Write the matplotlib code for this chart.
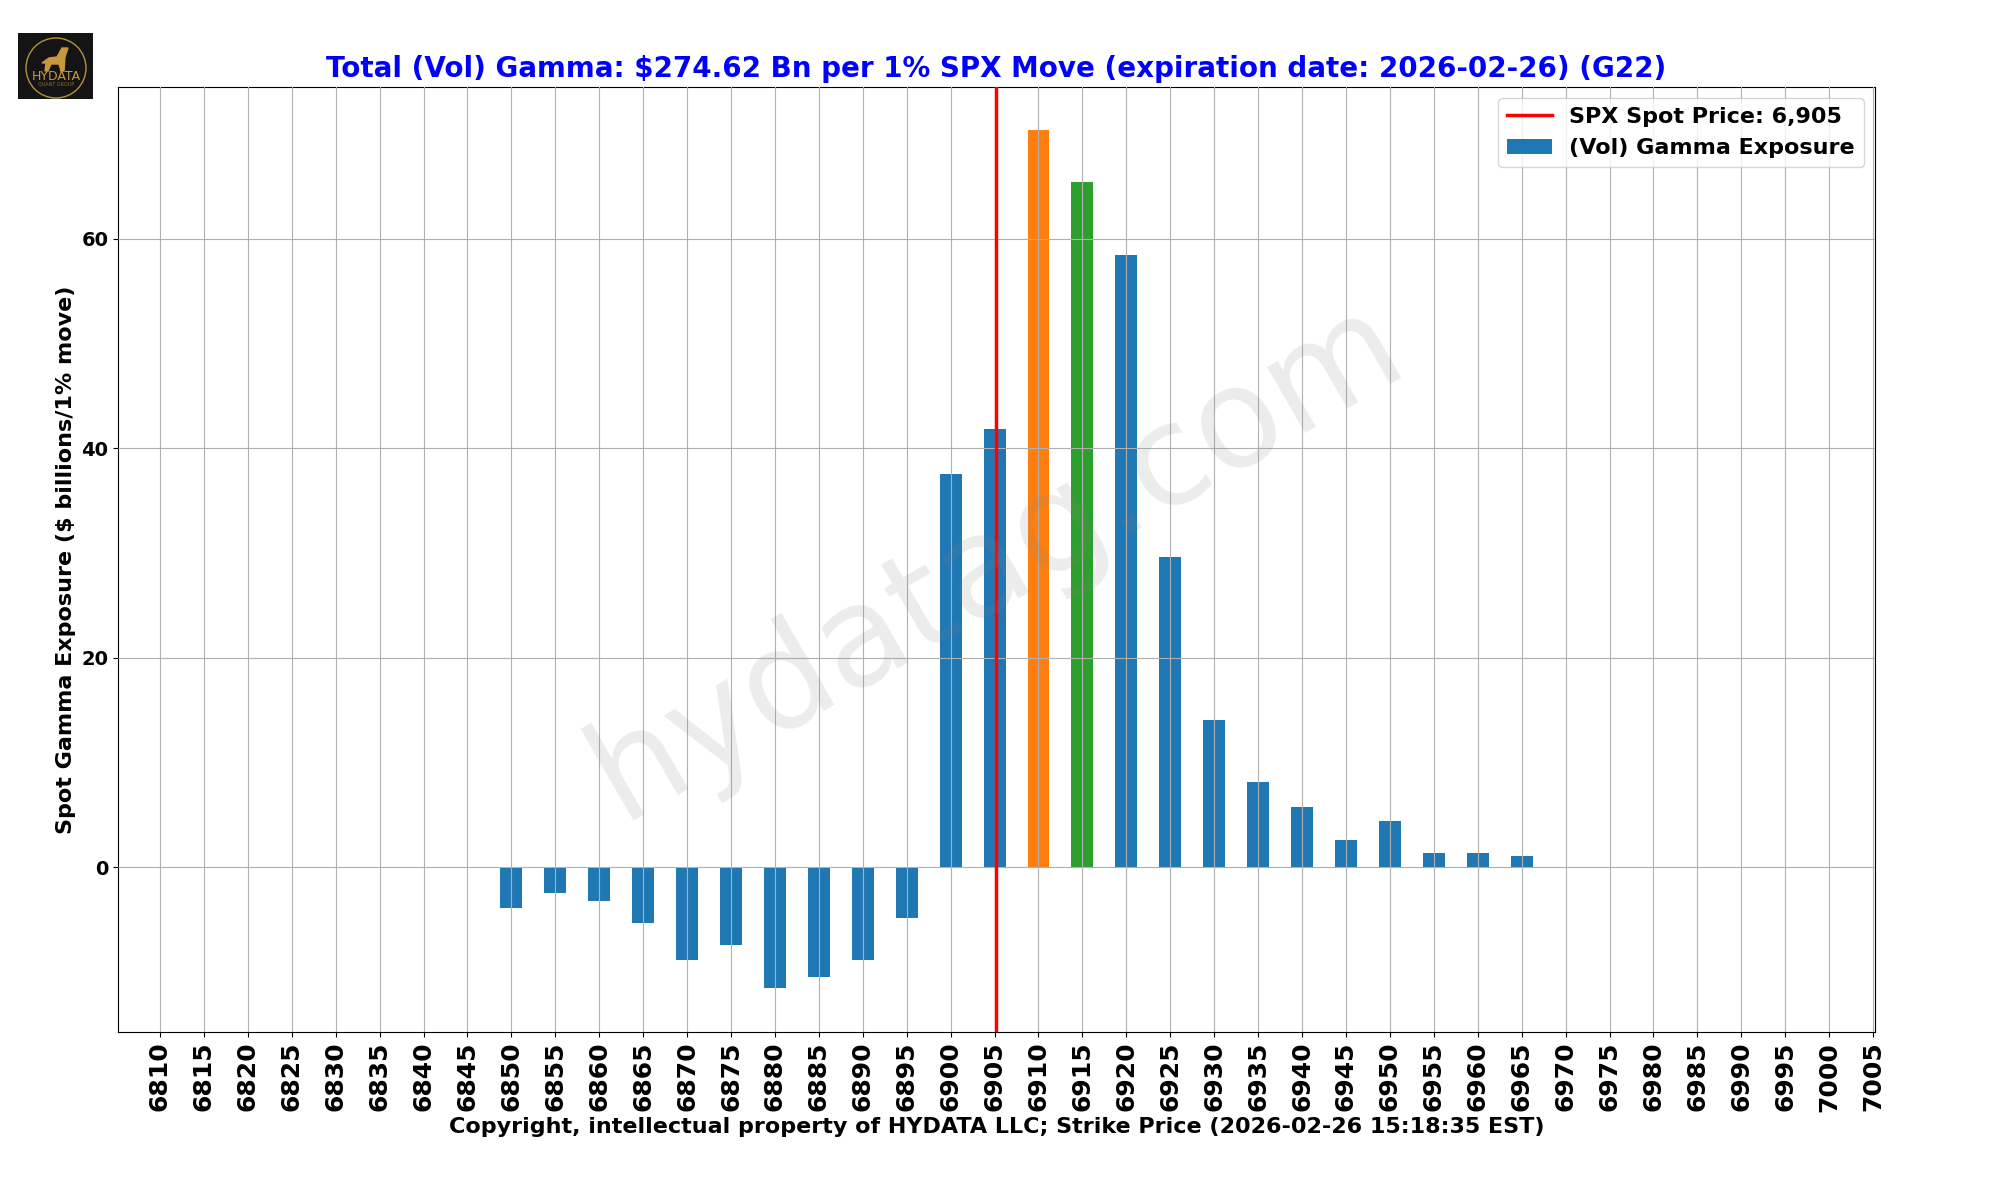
import matplotlib
matplotlib.use("Agg")
import matplotlib.pyplot as plt
from matplotlib.patches import Circle, Polygon

# strikes with non-zero gamma ($ bn per 1% move)
strikes = [6850, 6855, 6860, 6865, 6870, 6875, 6880, 6885, 6890, 6895, 6900, 6905,
           6910, 6915, 6920, 6925, 6930, 6935, 6940, 6945, 6950, 6955, 6960, 6965]
gamma = [-3.9, -2.5, -3.2, -5.3, -8.9, -7.4, -11.55, -10.5, -8.9, -4.9, 37.5, 41.8,
         70.4, 65.4, 58.5, 29.6, 14.05, 8.1, 5.75, 2.6, 4.4, 1.35, 1.35, 1.1]
bar_colors = ["C0"] * 12 + ["C1", "C2"] + ["C0"] * 10
tick_strikes = list(range(6810, 7006, 5))
spot = 6905.15

W, H = 2000, 1200
fig = plt.figure(figsize=(20, 12), dpi=100)
ax = fig.add_axes([118 / W, 1 - 1032 / H, (1875 - 118) / W, (1032 - 87) / H])

ax.bar(strikes, gamma, width=2.5, color=bar_colors, label="(Vol) Gamma Exposure", zorder=1)
ax.axvline(spot, color="red", linewidth=2.5, label="SPX Spot Price: 6,905", zorder=3)
ax.set_xlim(6805.22, 7005.22)
ax.set_ylim(-15.75, 74.5)
ax.grid(True)
ax.set_axisbelow(False)

ax.set_xticks(tick_strikes)
ax.set_xticklabels(tick_strikes, rotation=90, fontsize=18, fontweight="bold")
ax.set_yticks([0, 20, 40, 60])
ax.set_yticklabels([0, 20, 40, 60], fontsize=14, fontweight="bold")

ax.set_title("Total (Vol) Gamma: $274.62 Bn per 1% SPX Move (expiration date: 2026-02-26) (G22)",
             color="blue", fontsize=20, fontweight="bold", pad=7)
ax.set_ylabel("Spot Gamma Exposure ($ billions/1% move)", fontsize=16, fontweight="bold")
ax.set_xlabel("Copyright, intellectual property of HYDATA LLC; Strike Price (2026-02-26 15:18:35 EST)",
              fontsize=16, fontweight="bold", labelpad=4)

handles, labels = ax.get_legend_handles_labels()
ax.legend(handles, labels, loc="upper right", prop={"size": 16, "weight": "bold"})

# watermark sits on top of the bars
ax.text(0.5, 0.5, "hydatag.com", transform=ax.transAxes, fontsize=100, color="gray",
        alpha=0.15, rotation=30, ha="center", va="center", zorder=5)

# logo
logo = fig.add_axes([18 / W, 1 - 99 / H, 75 / W, 66 / H])
logo.set_facecolor("#141414")
logo.set_xlim(0, 75)
logo.set_ylim(66, 0)
logo.set_xticks([])
logo.set_yticks([])
for s in logo.spines.values():
    s.set_visible(False)
logo.add_patch(Circle((38, 35), 30, fill=False, edgecolor="#b8913f", linewidth=1))
logo.add_patch(Polygon([(24, 30), (31, 25), (39, 24), (44, 15), (50, 15), (47, 24),
                        (46, 38), (43, 38), (41, 31), (33, 31), (30, 38), (27, 38), (28, 30)],
                       color="#c9983c"))
logo.text(38, 44, "HYDATA", color="#c9983c", fontsize=9, ha="center", va="center")
logo.text(38, 51, "QUANT GROUP", color="#8f7233", fontsize=3.5, ha="center", va="center")

fig.savefig("out.png", dpi=100)
